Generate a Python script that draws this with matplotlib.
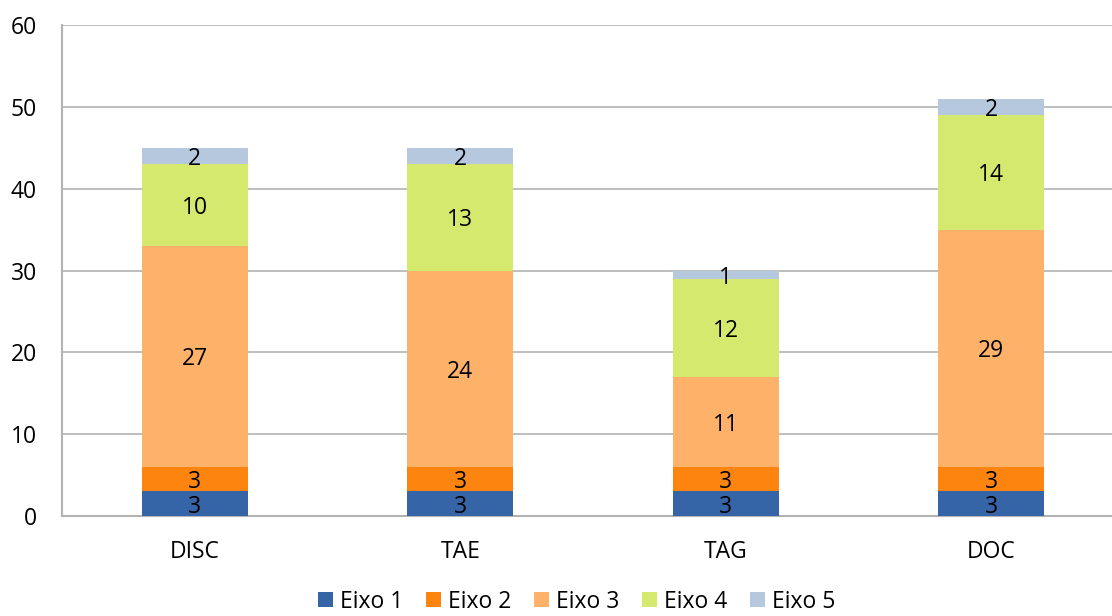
import matplotlib.pyplot as plt
import numpy as np

plt.rcParams['font.family'] = ['Open Sans', 'DejaVu Sans']

categories = ["DISC", "TAE", "TAG", "DOC"]
series_names = ["Eixo 1", "Eixo 2", "Eixo 3", "Eixo 4", "Eixo 5"]
eixo1 = [3, 3, 3, 3]
eixo2 = [3, 3, 3, 3]
eixo3 = [27, 24, 11, 29]
eixo4 = [10, 13, 12, 14]
eixo5 = [2, 2, 1, 2]
colors = ["#3565a6", "#fd850f", "#feb168", "#d5e96e", "#b6c8dd"]

fig = plt.figure(figsize=(11.12, 6.16), dpi=100)
ax = fig.add_axes([62 / 1112, 1 - 516 / 616, 1062 / 1112, 491 / 616])

x = np.arange(len(categories))
bottom = np.zeros(len(categories))
for name, vals, col in zip(series_names, [eixo1, eixo2, eixo3, eixo4, eixo5], colors):
    vals = np.array(vals, dtype=float)
    ax.bar(x, vals, 0.4, bottom=bottom, color=col, label=name, zorder=3)
    for xi, b, v in zip(x, bottom, vals):
        ax.text(xi, b + v / 2, f"{int(v)}", ha="center", va="center_baseline",
                fontsize=16.5, color="black", zorder=4)
    bottom += vals

ax.set_xlim(-0.5, 3.5)
ax.set_ylim(0, 60)
ax.set_yticks(range(0, 61, 10))
ax.set_xticks(x)
ax.set_xticklabels(categories)
ax.tick_params(axis="both", length=0, labelsize=16.5)
ax.tick_params(axis="y", pad=18)
ax.tick_params(axis="x", pad=17)
ax.grid(axis="y", color="#b3b3b3", linewidth=1.2, zorder=0)
for s in ["top", "right"]:
    ax.spines[s].set_visible(False)
for s in ["left", "bottom"]:
    ax.spines[s].set_color("#b3b3b3")
    ax.spines[s].set_linewidth(1.5)

# legend nudged up a little so its text is not clipped at the bottom edge
fig.legend(loc="lower center", bbox_to_anchor=(577 / 1112, 0.0), ncol=5,
           frameon=False, fontsize=16.5, handlelength=0.65, handleheight=0.65,
           handletextpad=0.3, columnspacing=1.0, borderpad=0.0, borderaxespad=0.1)

fig.savefig("out.png", dpi=100)
